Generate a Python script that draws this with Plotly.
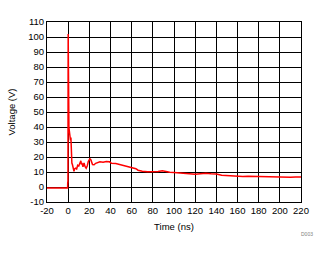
import plotly.graph_objects as go

time_ns = [-20, -15, -10, -5, -1, -0.5, -0.4, -0.2, 0.0, 0.15, 0.3, 0.5, 0.7, 1.0, 1.4, 1.8, 2.2, 2.6, 3.0,
           3.5, 4.0, 4.5, 5.0, 5.5, 6.0, 7.0, 8.0, 9.0, 10.0, 11.0, 12.0, 12.5, 13.0, 14.0, 15.0,
           16.0, 17.0, 18.0, 19.0, 20.5, 21.5, 23.0, 24.5, 26.0, 28.0, 30.0, 33.0, 36.0, 39.0,
           41.0, 45.0, 48.0, 52.0, 56.0, 60.0, 64.0, 66.0, 70.0, 75.0, 80.0, 85.0, 89.0, 92.0,
           96.0, 100.0, 105.0, 110.0, 115.0, 120.0, 125.0, 130.0, 135.0, 140.0, 145.0, 150.0,
           155.0, 160.0, 165.0, 170.0, 175.0, 180.0, 185.0, 190.0, 195.0, 200.0, 205.0, 210.0,
           215.0, 220.0]
voltage_v = [-0.6, -0.7, -0.6, -0.7, -0.6, -0.6, 3.0, 3.0, 102.0, 60.0, 62.0, 45.0, 40.0, 38.0, 36.0, 36.0, 31.0, 33.0, 22.0,
             16.0, 15.0, 13.0, 11.0, 10.5, 12.0, 12.5, 12.0, 14.5, 14.0, 16.0, 17.5, 15.0, 16.0, 13.5, 16.0,
             13.5, 12.5, 14.0, 17.0, 18.8, 18.0, 15.0, 14.8, 15.8, 16.3, 16.8, 16.5, 17.0, 16.8,
             15.8, 15.7, 15.2, 14.6, 13.8, 13.0, 12.2, 11.2, 10.5, 10.2, 10.0, 10.3, 10.8, 10.2,
             9.8, 9.6, 9.4, 9.2, 8.6, 8.5, 8.9, 9.2, 8.9, 8.7, 7.9, 7.6,
             7.2, 7.2, 7.0, 7.1, 7.0, 7.1, 7.0, 6.7, 6.4, 6.5, 6.3, 6.5,
             6.6, 6.6]

x_ticks = list(range(-20, 221, 20))
y_ticks = list(range(-10, 111, 10))

fig = go.Figure()
fig.add_trace(go.Scatter(x=time_ns, y=voltage_v, mode="lines",
                         line=dict(color="#ff0000", width=1.5), showlegend=False))

font = "Liberation Sans, Arial, sans-serif"
axis_common = dict(showgrid=True, gridcolor="#000000", gridwidth=1, showline=True,
                   linecolor="#000000", linewidth=1, mirror=True, zeroline=False,
                   ticks="", tickfont=dict(family=font, size=9.5, color="#000000"))

fig.update_layout(
    width=330, height=254,
    margin=dict(l=47, r=29, t=22, b=52),
    paper_bgcolor="white", plot_bgcolor="white",
    xaxis=dict(range=[-20, 220], tickvals=x_ticks, ticktext=[str(v) for v in x_ticks],
               title=dict(text="Time (ns)", font=dict(family=font, size=9.5, color="#000000"), standoff=7),
               **axis_common),
    yaxis=dict(range=[-10, 110], tickvals=y_ticks, ticktext=[str(v) for v in y_ticks],
               title=dict(text="Voltage (V)", font=dict(family=font, size=9.5, color="#000000"), standoff=10),
               **axis_common),
    annotations=[dict(text="D003", x=1.055, y=-0.15, xref="paper", yref="paper",
                      showarrow=False, xanchor="right", yanchor="top",
                      font=dict(family=font, size=5, color="#808080"))],
)

fig.write_html("out.html")
